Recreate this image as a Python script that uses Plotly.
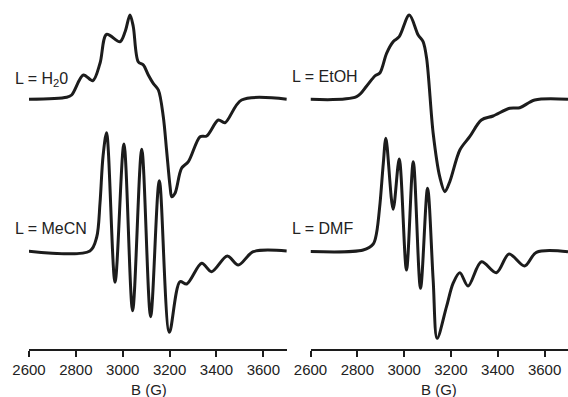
import plotly.graph_objects as go

# ---- data (field in G, intensity in arbitrary units relative to baseline) ----
h2o_B = [2594, 2761, 2782, 2832, 2872, 2903, 2931, 2988, 3010, 3031, 3045, 3066, 3088, 3109, 3130,
         3152, 3173, 3187, 3202, 3209, 3223, 3251, 3280, 3330, 3358, 3408, 3436, 3507, 3700]
h2o_I = [0, 2, 4.3, 24.3, 18.6, 36, 65, 57.6, 67.6, 84.3, 72.6, 37.6, 34.3, 24.3, 16,
         9.3, -17.4, -50.7, -87.4, -97.4, -94, -69, -62.4, -37.4, -36.7, -20.7, -23.4, -0.7, 0]

mecn_B = [2594, 2860, 2889, 2903, 2916, 2931, 2967, 3005, 3042, 3081, 3119, 3156, 3199, 3244,
          3273, 3337, 3379, 3446, 3493, 3557, 3700]
mecn_I = [0, 0, 14, 48, 95, 118.3, -31.3, 107, -59.7, 101.7, -65.7, 70.3, -81.3, -30.7,
          -33, -12.3, -20.7, -5, -14, -0.7, 0]

etoh_B = [2600, 2797, 2840, 2875, 2897, 2925, 2953, 2979, 3022, 3060, 3081, 3096, 3124, 3152,
          3174, 3195, 3238, 3280, 3330, 3380, 3451, 3494, 3558, 3700]
etoh_I = [0, 2.6, 13.3, 23.3, 26.6, 46, 57.6, 62.6, 84.3, 64.3, 57.6, 41, -34, -77.4,
          -92.4, -82.4, -50.7, -37.4, -20.7, -16.7, -9, -8.4, -0.7, 0]

dmf_B = [2600, 2825, 2868, 2882, 2897, 2911, 2922, 2953, 2979, 3010, 3039, 3070, 3100, 3124,
         3141, 3181, 3209, 3238, 3273, 3330, 3394, 3448, 3515, 3565, 3700]
dmf_I = [0, 1.5, 7.5, 18.2, 48.2, 88.2, 113.2, 42.2, 92.5, -18.5, 89.8, -36.8, 63.2, -28.5,
         -86.8, -55.2, -31.8, -21.2, -34.5, -10.2, -21.2, -2.5, -14.5, -0.8, -0.2]

tick_vals = [2600, 2800, 3000, 3200, 3400, 3600]
tick_text = ["2600", "2800", "3000", "3200", "3400", "3600"]
labels = ["L = H<sub>2</sub>0", "L = MeCN", "L = EtOH", "L = DMF"]
x_title = "B (G)"

# ---- layout helpers ----
W, H = 568, 397
AXIS_Y = 349  # pixel row of the x axis line

def px(x):
    return x / W

def py(y):
    return 1 - y / H

LINE = "#1c1c1c"
TXT = "#222222"
FONT = "Liberation Sans, Arial, sans-serif"

fig = go.Figure()

def add(B, I, offset, xa, ya):
    fig.add_trace(go.Scatter(
        x=B, y=[offset + v for v in I], mode="lines",
        line=dict(color=LINE, width=3, shape="spline", smoothing=0.9),
        xaxis=xa, yaxis=ya, showlegend=False, hoverinfo="skip"))

add(h2o_B, h2o_I, -99.3, "x", "y")
add(mecn_B, mecn_I, -251, "x", "y")
add(etoh_B, etoh_I, -99.3, "x2", "y2")
add(dmf_B, dmf_I, -251.5, "x2", "y2")

xcommon = dict(range=[2600, 3700], tickvals=tick_vals, ticktext=tick_text, automargin=False,
               showgrid=False, zeroline=False, showline=True, linecolor=LINE, linewidth=2,
               ticks="outside", ticklen=6, tickwidth=2, tickcolor=LINE,
               tickfont=dict(family=FONT, size=15, color=TXT), fixedrange=True)
ycommon = dict(range=[-AXIS_Y, 0], domain=[py(AXIS_Y), 1], visible=False, automargin=False,
               showgrid=False, zeroline=False, fixedrange=True)

fig.update_layout(
    template="none",
    width=W, height=H, autosize=False,
    margin=dict(l=0, r=0, t=0, b=0, pad=0, autoexpand=False),
    paper_bgcolor="white", plot_bgcolor="white",
    xaxis=dict(domain=[px(29), px(286.8)], anchor="y", **xcommon),
    yaxis=dict(anchor="x", **ycommon),
    xaxis2=dict(domain=[px(310.5), 1.0], anchor="y2", **xcommon),
    yaxis2=dict(anchor="x2", **ycommon),
)

label_pos = [(12.7, 80), (13.3, 229), (290, 76.7), (290, 229)]
for text, (lx, ly) in zip(labels, label_pos):
    fig.add_annotation(text=text, x=px(lx), y=py(ly), xref="paper", yref="paper",
                       xanchor="left", yanchor="middle", showarrow=False,
                       font=dict(family=FONT, size=16, color=TXT))

for cx in (149, 439):
    fig.add_annotation(text=x_title, x=px(cx), y=py(389), xref="paper", yref="paper",
                       xanchor="center", yanchor="middle", showarrow=False,
                       font=dict(family=FONT, size=15, color=TXT))

fig.write_html("out.html", config={"displayModeBar": False},
               post_script="document.body.style.margin='0';document.body.style.overflow='hidden';")
